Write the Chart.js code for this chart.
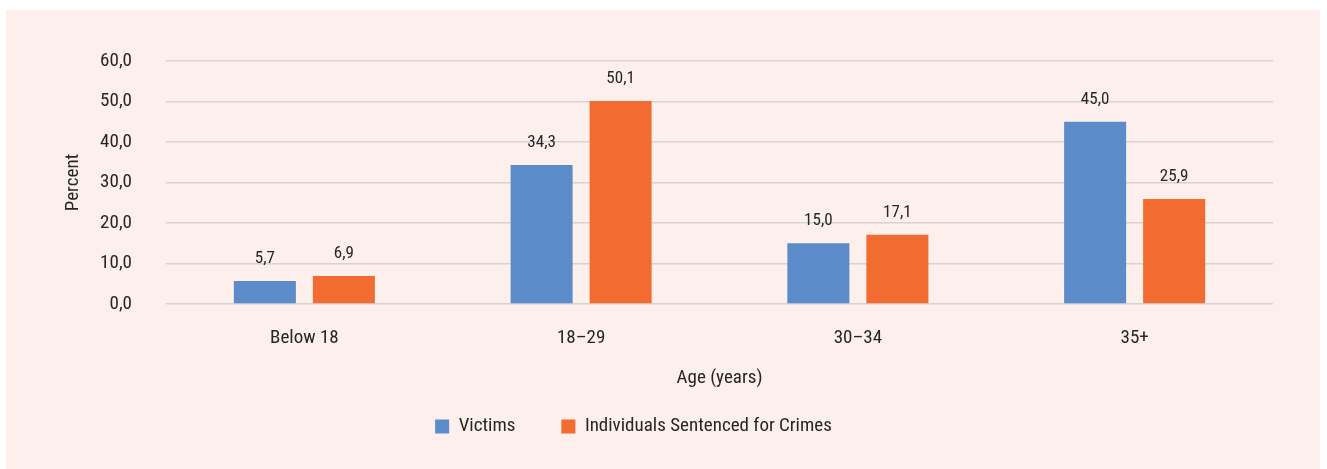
<!DOCTYPE html>
<html>
<head>
<meta charset="utf-8">
<script src="https://cdn.jsdelivr.net/npm/chart.js@4.4.0/dist/chart.umd.min.js"></script>
<style>
  html, body { margin: 0; padding: 0; background: #ffffff; }
  #panel { position: absolute; left: 6px; top: 10px; width: 1314px; height: 459px; background: #FDEFEB; }
  canvas { display: block; }
</style>
</head>
<body>
<div id="panel"><canvas id="c" width="1314" height="459"></canvas></div>
<script>
const categories = ["Below 18", "18\u201329", "30\u201334", "35+"];
const victims = [5.7, 34.3, 15.0, 45.0];
const sentenced = [6.9, 50.1, 17.1, 25.9];
const seriesNames = ["Victims", "Individuals Sentenced for Crimes"];
const yTicks = [0, 10, 20, 30, 40, 50, 60];

const FONT = "'Liberation Sans Narrow', 'Roboto Condensed', 'DejaVu Sans Condensed', 'Liberation Sans', sans-serif";
const TEXT = "#262626";
const fmt = v => v.toFixed(1).replace('.', ',');

const valueLabels = {
  id: 'valueLabels',
  afterDatasetsDraw(chart) {
    const ctx = chart.ctx;
    ctx.save();
    ctx.font = "17px " + FONT;
    ctx.fillStyle = TEXT;
    ctx.textAlign = 'center';
    ctx.textBaseline = 'alphabetic';
    chart.data.datasets.forEach((ds, i) => {
      chart.getDatasetMeta(i).data.forEach((bar, j) => {
        ctx.fillText(fmt(ds.data[j]), bar.x, bar.y - 18);
      });
    });
    ctx.restore();
  }
};

const legendShift = {
  id: 'legendShift',
  afterLayout(chart) {
    const lg = chart.legend;
    if (!lg) return;
    lg.top -= 19; lg.bottom -= 19;
    lg.left -= 6; lg.right -= 6;
  }
};

new Chart(document.getElementById('c'), {
  type: 'bar',
  data: {
    labels: categories,
    datasets: [
      { label: seriesNames[0], data: victims, backgroundColor: '#5B8BC9', categoryPercentage: 0.571, barPercentage: 0.785 },
      { label: seriesNames[1], data: sentenced, backgroundColor: '#F26B31', categoryPercentage: 0.571, barPercentage: 0.785 }
    ]
  },
  options: {
    responsive: false,
    animation: false,
    devicePixelRatio: 1,
    layout: { padding: { top: 51, right: 47, left: 0, bottom: 4 } },
    plugins: {
      tooltip: { enabled: false },
      legend: {
        position: 'bottom',
        labels: {
          font: { family: FONT, size: 19 },
          color: TEXT,
          boxWidth: 14,
          boxHeight: 14,
          padding: 46
        }
      }
    },
    scales: {
      x: {
        grid: { display: false },
        border: { display: false },
        ticks: { font: { family: FONT, size: 19 }, color: TEXT, padding: 15 },
        title: { display: true, text: 'Age (years)', font: { family: FONT, size: 19 }, color: TEXT, padding: { top: 0, bottom: 0 } },
        afterFit(s) { s.height = 86; }
      },
      y: {
        min: 0, max: 60,
        afterBuildTicks(s) { s.ticks = yTicks.map(v => ({ value: v })); },
        grid: { color: '#D4D4D4', lineWidth: 1.6, drawTicks: false },
        border: { display: false },
        ticks: { font: { family: FONT, size: 19 }, color: TEXT, padding: 34, callback: v => fmt(v) },
        title: { display: true, text: 'Percent', font: { family: FONT, size: 19 }, color: TEXT, padding: { top: 56, bottom: 0 } },
        afterFit(s) { s.width = 160; }
      }
    }
  },
  plugins: [valueLabels, legendShift]
});
</script>
</body>
</html>
